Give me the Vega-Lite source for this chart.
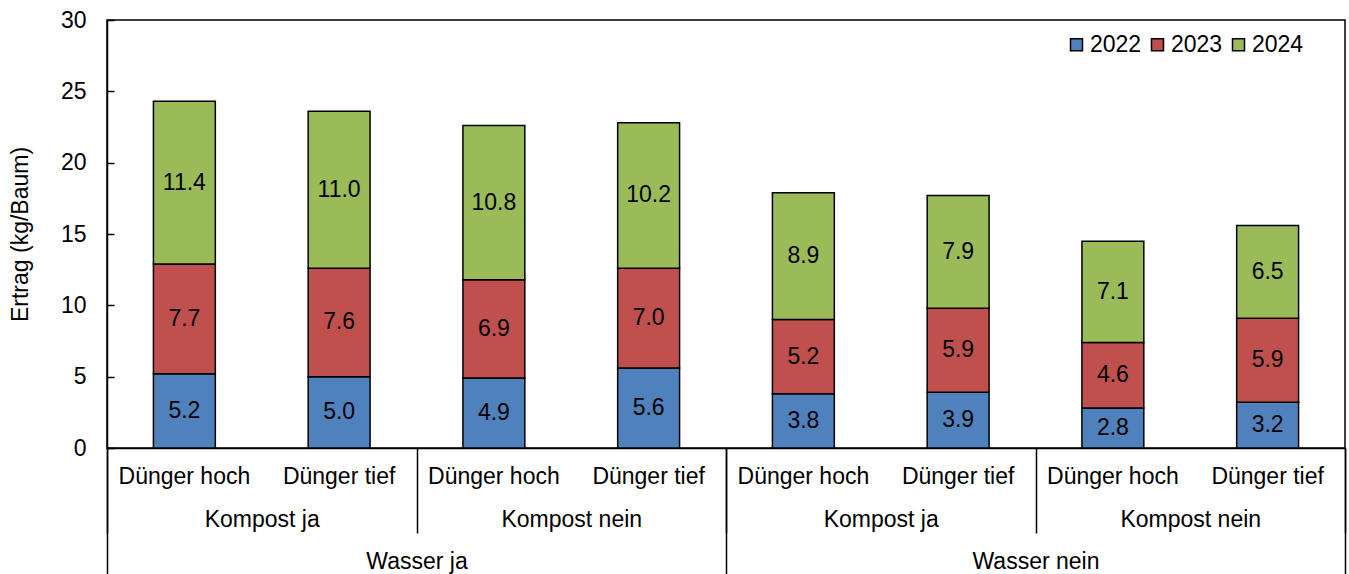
{
  "$schema": "https://vega.github.io/schema/vega-lite/v6.json",
  "width": 1238,
  "height": 428,
  "autosize": {"type": "none"},
  "padding": {"left": 107, "top": 20, "right": 4, "bottom": 126},
  "background": "white",
  "config": {
    "font": "Liberation Sans",
    "view": {"stroke": "black", "strokeWidth": 1.5},
    "axis": {
      "labelFont": "Liberation Sans",
      "labelFontSize": 23,
      "labelColor": "black",
      "titleFont": "Liberation Sans",
      "titleFontSize": 23,
      "titleFontWeight": "normal",
      "titleColor": "black",
      "domainColor": "black",
      "domainWidth": 1.5,
      "tickColor": "black",
      "tickWidth": 1.5,
      "grid": false
    },
    "legend": {"labelFont": "Liberation Sans", "labelFontSize": 23, "labelColor": "black"}
  },
  "datasets": {
    "bars": [
      {"cat": "Wasser ja|Kompost ja|Dünger hoch", "year": "2022", "value": 5.2},
      {"cat": "Wasser ja|Kompost ja|Dünger hoch", "year": "2023", "value": 7.7},
      {"cat": "Wasser ja|Kompost ja|Dünger hoch", "year": "2024", "value": 11.4},
      {"cat": "Wasser ja|Kompost ja|Dünger tief", "year": "2022", "value": 5.0},
      {"cat": "Wasser ja|Kompost ja|Dünger tief", "year": "2023", "value": 7.6},
      {"cat": "Wasser ja|Kompost ja|Dünger tief", "year": "2024", "value": 11.0},
      {"cat": "Wasser ja|Kompost nein|Dünger hoch", "year": "2022", "value": 4.9},
      {"cat": "Wasser ja|Kompost nein|Dünger hoch", "year": "2023", "value": 6.9},
      {"cat": "Wasser ja|Kompost nein|Dünger hoch", "year": "2024", "value": 10.8},
      {"cat": "Wasser ja|Kompost nein|Dünger tief", "year": "2022", "value": 5.6},
      {"cat": "Wasser ja|Kompost nein|Dünger tief", "year": "2023", "value": 7.0},
      {"cat": "Wasser ja|Kompost nein|Dünger tief", "year": "2024", "value": 10.2},
      {"cat": "Wasser nein|Kompost ja|Dünger hoch", "year": "2022", "value": 3.8},
      {"cat": "Wasser nein|Kompost ja|Dünger hoch", "year": "2023", "value": 5.2},
      {"cat": "Wasser nein|Kompost ja|Dünger hoch", "year": "2024", "value": 8.9},
      {"cat": "Wasser nein|Kompost ja|Dünger tief", "year": "2022", "value": 3.9},
      {"cat": "Wasser nein|Kompost ja|Dünger tief", "year": "2023", "value": 5.9},
      {"cat": "Wasser nein|Kompost ja|Dünger tief", "year": "2024", "value": 7.9},
      {"cat": "Wasser nein|Kompost nein|Dünger hoch", "year": "2022", "value": 2.8},
      {"cat": "Wasser nein|Kompost nein|Dünger hoch", "year": "2023", "value": 4.6},
      {"cat": "Wasser nein|Kompost nein|Dünger hoch", "year": "2024", "value": 7.1},
      {"cat": "Wasser nein|Kompost nein|Dünger tief", "year": "2022", "value": 3.2},
      {"cat": "Wasser nein|Kompost nein|Dünger tief", "year": "2023", "value": 5.9},
      {"cat": "Wasser nein|Kompost nein|Dünger tief", "year": "2024", "value": 6.5}
    ],
    "kompost": [
      {"k": "Wasser ja|Kompost ja"},
      {"k": "Wasser ja|Kompost nein"},
      {"k": "Wasser nein|Kompost ja"},
      {"k": "Wasser nein|Kompost nein"}
    ],
    "wasser": [
      {"w": "Wasser ja"},
      {"w": "Wasser nein"}
    ]
  },
  "layer": [
    {
      "data": {"name": "bars"},
      "layer": [
        {
          "mark": {"type": "bar", "width": {"band": 0.4}, "stroke": "black", "strokeWidth": 1.5},
          "encoding": {
            "x": {
              "field": "cat", "type": "nominal", "sort": null,
              "scale": {"paddingInner": 0, "paddingOuter": 0},
              "axis": {
                "orient": "bottom", "title": null, "ticks": false, "labelAngle": 0,
                "labelPadding": 17,
                "labelExpr": "split(datum.value, '|')[2]"
              }
            },
            "y": {
              "field": "value", "type": "quantitative", "stack": "zero",
              "scale": {"domain": [0, 30], "nice": false},
              "axis": {
                "title": "Ertrag (kg/Baum)", "values": [0, 5, 10, 15, 20, 25, 30],
                "tickSize": -7, "labelPadding": 28, "titlePadding": 28
              }
            },
            "color": {
              "field": "year", "type": "nominal",
              "scale": {"domain": ["2022", "2023", "2024"], "range": ["#4F81BD", "#C0504D", "#9BBB59"]},
              "legend": {
                "title": null, "orient": "none", "direction": "horizontal",
                "legendX": 958, "legendY": 13,
                "symbolType": "square", "symbolSize": 144,
                "symbolStrokeColor": "black", "symbolStrokeWidth": 1.5,
                "labelOffset": 2, "columnPadding": 4
              }
            },
            "order": {"field": "year", "type": "nominal"}
          }
        },
        {
          "mark": {"type": "text", "fontSize": 23, "color": "black", "font": "Liberation Sans"},
          "encoding": {
            "x": {"field": "cat", "type": "nominal", "sort": null},
            "y": {"field": "value", "type": "quantitative", "stack": "zero", "bandPosition": 0.5},
            "detail": {"field": "year", "type": "nominal"},
            "order": {"field": "year", "type": "nominal"},
            "text": {"field": "value", "type": "quantitative", "format": ".1f"}
          }
        }
      ]
    },
    {
      "data": {"name": "kompost"},
      "mark": {"type": "point", "opacity": 0},
      "encoding": {
        "x": {
          "field": "k", "type": "nominal", "sort": null,
          "scale": {"paddingInner": 0, "paddingOuter": 0},
          "axis": {
            "orient": "bottom", "title": null, "domain": false, "ticks": true,
            "tickBand": "extent", "tickSize": 85, "labelAngle": 0,
            "labelPadding": -25,
            "labelExpr": "split(datum.value, '|')[1]"
          }
        }
      }
    },
    {
      "data": {"name": "wasser"},
      "mark": {"type": "point", "opacity": 0},
      "encoding": {
        "x": {
          "field": "w", "type": "nominal", "sort": null,
          "scale": {"paddingInner": 0, "paddingOuter": 0},
          "axis": {
            "orient": "bottom", "title": null, "domain": false, "ticks": true,
            "tickBand": "extent", "tickSize": 126, "labelAngle": 0,
            "labelPadding": -24
          }
        }
      }
    }
  ],
  "resolve": {"scale": {"x": "independent"}, "axis": {"x": "independent"}}
}
